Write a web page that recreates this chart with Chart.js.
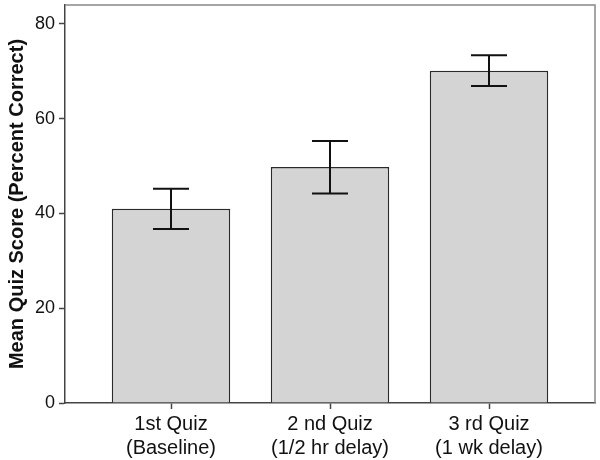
<!DOCTYPE html>
<html>
<head>
<meta charset="utf-8">
<script src="https://cdn.jsdelivr.net/npm/chart.js@4/dist/chart.umd.min.js"></script>
<style>
  html, body { margin: 0; padding: 0; background: #fff; }
  #wrap { width: 600px; height: 460px; }
</style>
</head>
<body>
<div id="wrap"><canvas id="quizChart" width="600" height="460"></canvas></div>
<script>
// data
const quizLabels = [['1st Quiz', '(Baseline)'], ['2 nd Quiz', '(1/2 hr delay)'], ['3 rd Quiz', '(1 wk delay)']];
const meanScores = [41.0, 49.8, 70.1];
const errLow = [36.7, 44.2, 66.9];
const errHigh = [45.2, 55.3, 73.4];
const yTicks = [0, 20, 40, 60, 80];

const font = 'Liberation Sans, Arial, sans-serif';

// error bars + the top/right frame
const errorBars = {
  id: 'errorBars',
  afterDatasetsDraw(chart) {
    const { ctx, scales: { x, y }, chartArea } = chart;
    ctx.save();
    ctx.strokeStyle = '#111';
    ctx.lineWidth = 2;
    meanScores.forEach((m, i) => {
      const cx = Math.round(x.getPixelForValue(i + 1));
      const yl = y.getPixelForValue(errLow[i]);
      const yh = y.getPixelForValue(errHigh[i]);
      ctx.beginPath();
      ctx.moveTo(cx, yl); ctx.lineTo(cx, yh);
      ctx.moveTo(cx - 18, yh); ctx.lineTo(cx + 18, yh);
      ctx.moveTo(cx - 18, yl); ctx.lineTo(cx + 18, yl);
      ctx.stroke();
    });
    ctx.strokeStyle = '#888';
    ctx.lineWidth = 1.5;
    ctx.beginPath();
    ctx.moveTo(chartArea.left, chartArea.top);
    ctx.lineTo(chartArea.right, chartArea.top);
    ctx.lineTo(chartArea.right, chartArea.bottom);
    ctx.stroke();
    ctx.restore();
  }
};

new Chart(document.getElementById('quizChart'), {
  type: 'bar',
  data: {
    datasets: [{
      data: meanScores.map((v, i) => ({ x: i + 1, y: v })),
      backgroundColor: '#d4d4d4',
      borderColor: '#2a2a2a',
      borderWidth: 1.5,
      barPercentage: 0.745,
      categoryPercentage: 1
    }]
  },
  options: {
    responsive: false,
    animation: false,
    layout: { padding: { top: 5, right: 5, left: 0, bottom: 0 } },
    plugins: { legend: { display: false }, tooltip: { enabled: false } },
    scales: {
      x: {
        type: 'linear',
        offset: false,
        min: 1 / 3,
        max: 11 / 3,
        afterBuildTicks: (axis) => { axis.ticks = [1, 2, 3].map(v => ({ value: v })); },
        afterFit: (axis) => { axis.height = 57; axis.paddingLeft = 0; axis.paddingRight = 0; },
        grid: { display: true, offset: false, drawOnChartArea: false, tickLength: 6, color: '#444', tickWidth: 1.5 },
        border: { display: true, color: '#444', width: 1.5 },
        ticks: {
          color: '#111',
          font: { family: font, size: 20 },
          padding: 3,
          maxRotation: 0,
          autoSkip: false,
          callback: (v) => quizLabels[v - 1]
        }
      },
      y: {
        min: 0,
        max: 84,
        afterBuildTicks: (axis) => { axis.ticks = yTicks.map(v => ({ value: v })); },
        afterFit: (axis) => { axis.width = 65; axis.paddingTop = 0; axis.paddingBottom = 0; },
        grid: { display: true, drawOnChartArea: false, tickLength: 6, color: '#444', tickWidth: 1.5 },
        border: { display: true, color: '#444', width: 1.5 },
        ticks: { color: '#111', font: { family: font, size: 18 }, padding: 4 },
        title: {
          display: true,
          text: 'Mean Quiz Score (Percent Correct)',
          color: '#111',
          font: { family: font, size: 20, weight: 'bold' },
          padding: { top: 5, bottom: 0 }
        }
      }
    }
  },
  plugins: [errorBars]
});
</script>
</body>
</html>
